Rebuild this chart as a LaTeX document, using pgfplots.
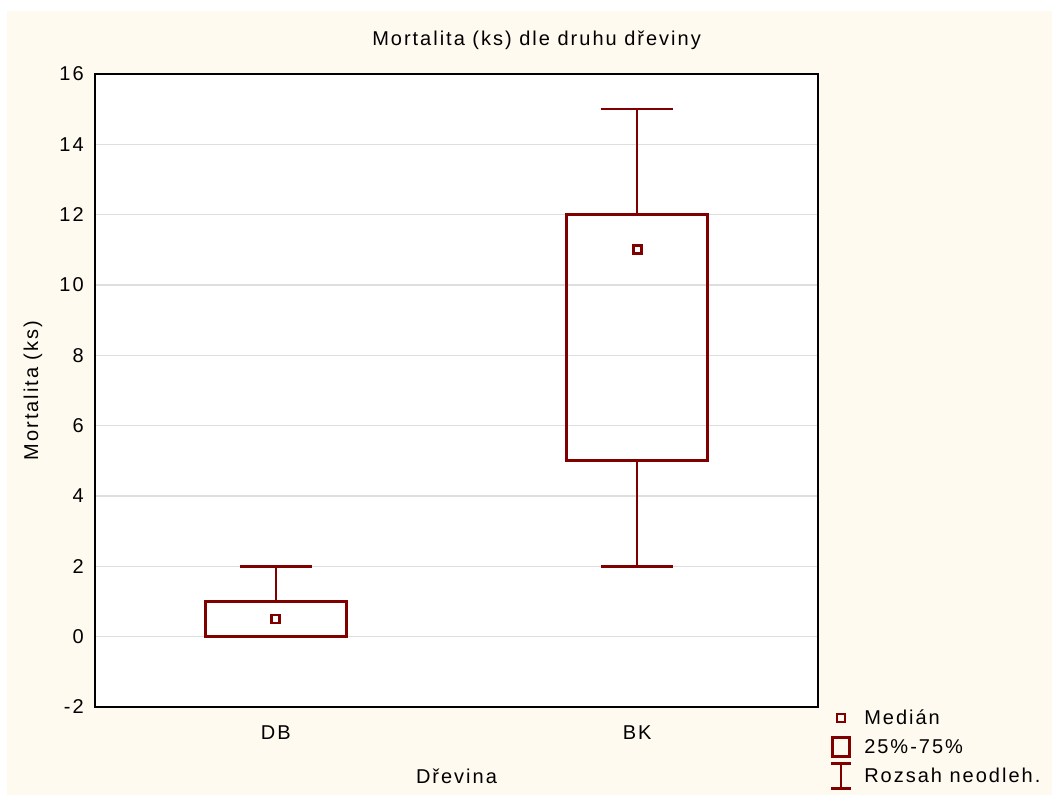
\documentclass[border=0pt]{standalone}
\usepackage{pgfplots}
\pgfplotsset{compat=1.18}
\usepackage{fontspec}
\setmainfont{Liberation Sans}[LetterSpace=10]
\definecolor{mar}{RGB}{128,0,0}
\definecolor{cream}{RGB}{255,250,240}
\pgfplotsset{
  wh/.style={mar, line width=1.8pt, forget plot, no markers},
  bx/.style={mar, line width=2.5pt, forget plot, no markers, line join=miter},
  md/.style={mar, only marks, mark=square, mark size=3pt, mark options={line width=2pt}, forget plot}
}
\begin{document}
\begin{tikzpicture}[font=\fontsize{15}{18}\selectfont]
\useasboundingbox (-71.25pt,-66.75pt) rectangle (717.75pt,530.25pt);
\fill[cream] (-66pt,-66pt) rectangle (717.75pt,522pt);
\begin{axis}[
  at={(0,0)}, anchor=south west,
  scale only axis, width=542.25pt, height=474.75pt,
  xmin=-0.5, xmax=1.5, ymin=-2, ymax=16,
  xtick={0,1}, xticklabels={DB,BK},
  ytick={-2,0,2,4,6,8,10,12,14,16},
  major tick length=0pt,
  /pgf/number format/assume math mode=true,
  axis background/.style={fill=white},
  axis line style={line width=1.6pt, black},
  ymajorgrids, major grid style={draw=black!13, line width=1pt},
  yticklabel style={anchor=east, inner sep=0pt, xshift=-8.25pt},
  xticklabel style={anchor=base, inner sep=0pt, yshift=-24.4pt},
  title={Mortalita (ks) dle druhu dřeviny},
  title style={at={(axis description cs:0.6107,1.0327)}, anchor=base, inner sep=0pt},
  xlabel={Dřevina},
  xlabel style={at={(axis description cs:0.5,-0.1216)}, anchor=base, inner sep=0pt},
  ylabel={Mortalita (ks)},
  ylabel style={at={(axis description cs:-0.0788,0.5)}, anchor=base, inner sep=0pt},
  legend style={at={(axis description cs:1.0166,0.0055)}, anchor=north west, draw=none, fill=none, inner sep=0pt, outer sep=0pt, row sep=0pt, column sep=9pt, nodes={inner sep=0pt, outer sep=0pt}},
  legend cell align=left,
]
% DB
\addplot[wh] coordinates {(0,1) (0,2)};
\addplot[wh] coordinates {(-0.1,2) (0.1,2)};
\addplot[wh] coordinates {(-0.1,0) (0.1,0)};
\addplot[bx] coordinates {(-0.195,0) (0.195,0) (0.195,1) (-0.195,1)} --cycle;
\addplot[md] coordinates {(0,0.5)};
% BK
\addplot[wh] coordinates {(1,12) (1,15)};
\addplot[wh] coordinates {(0.9,15) (1.1,15)};
\addplot[wh] coordinates {(1,5) (1,2)};
\addplot[wh] coordinates {(0.9,2) (1.1,2)};
\addplot[bx] coordinates {(0.805,5) (1.195,5) (1.195,12) (0.805,12)} --cycle;
\addplot[md] coordinates {(1,11)};
% legend
\addlegendimage{legend image code/.code={
  \path[draw=none, fill=none] (-7.5pt,-10.875pt) rectangle (7.5pt,10.875pt);
  \draw[mar, line width=2pt, fill=none] (-3pt,-3pt) rectangle (3pt,3pt);}}
\addlegendentry{Medián}
\addlegendimage{legend image code/.code={
  \path[draw=none, fill=none] (-7.5pt,-10.875pt) rectangle (7.5pt,10.875pt);
  \draw[mar, line width=2.5pt, fill=none] (-6.3pt,-7pt) rectangle (6.3pt,7pt);}}
\addlegendentry{25\%-75\%}
\addlegendimage{legend image code/.code={
  \path[draw=none, fill=none] (-7.5pt,-10.875pt) rectangle (7.5pt,10.875pt);
  \draw[mar, line width=1.7pt] (-7.5pt,9.4pt) -- (7.5pt,9.4pt) (0,9.4pt) -- (0,-9.4pt) (-7.5pt,-9.4pt) -- (7.5pt,-9.4pt);}}
\addlegendentry{Rozsah neodleh.}
\end{axis}
\end{tikzpicture}
\end{document}
